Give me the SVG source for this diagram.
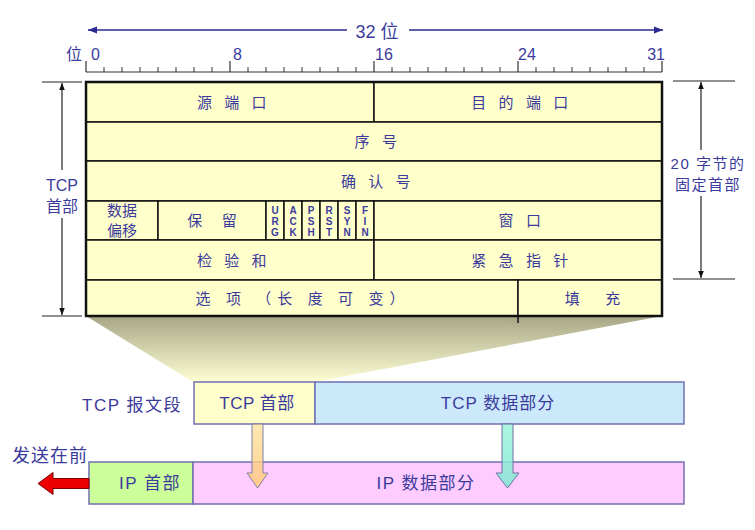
<svg xmlns="http://www.w3.org/2000/svg" width="755" height="530" viewBox="0 0 755 530">
<style>
.t{font-family:"Liberation Sans","Noto Sans CJK SC",sans-serif;fill:#3b3b9c}
.f{font-family:"Noto Sans CJK SC","Liberation Sans",sans-serif;fill:#3b3b9c;font-size:15px;text-anchor:middle;letter-spacing:4.5px}
.fl{font-family:"Liberation Sans",sans-serif;fill:#3b3b9c;font-size:10px;font-weight:bold;text-anchor:middle}
.cell{fill:#ffffcc;stroke:#111;stroke-width:1.5}
.ln{stroke:#111;stroke-width:1.5;fill:none}
.dim{stroke:#222;stroke-width:1.2;fill:none}
.box{stroke:#7070b0;stroke-width:1.5}
.bt{font-family:"Liberation Sans","Noto Sans CJK SC",sans-serif;fill:#3b3b9c;font-size:17px;text-anchor:middle;letter-spacing:1px}
.rn{font-family:"Liberation Sans",sans-serif;fill:#3b3b9c;font-size:16px}
</style>
<defs>
<marker id="ah" viewBox="0 0 10 10" refX="10" refY="5" markerWidth="7" markerHeight="7" orient="auto-start-reverse" markerUnits="userSpaceOnUse">
<path d="M0,1 L10,5 L0,9 Z" fill="#111"/>
</marker>
<marker id="ahb" viewBox="0 0 10 10" refX="10" refY="5" markerWidth="12" markerHeight="9" orient="auto-start-reverse" markerUnits="userSpaceOnUse">
<path d="M0,1 L10,5 L0,9 Z" fill="#2a2a90"/>
</marker>
<linearGradient id="trap" x1="0" y1="0" x2="0" y2="1">
<stop offset="0" stop-color="#a6a686"/>
<stop offset="1" stop-color="#fefed4"/>
</linearGradient>
<linearGradient id="og" x1="0" y1="0" x2="0" y2="1">
<stop offset="0" stop-color="#ffe3a0"/>
<stop offset="1" stop-color="#ffc870"/>
</linearGradient>
<linearGradient id="tg" x1="0" y1="0" x2="0" y2="1">
<stop offset="0" stop-color="#9ff5dc"/>
<stop offset="1" stop-color="#7ee8d0"/>
</linearGradient>
</defs>

<!-- trapezoid shading -->
<polygon points="86,316 662,316 315,382 193,382" fill="url(#trap)"/>

<!-- ruler -->
<g id="ruler">
<text class="t" x="377" y="38" font-size="18" text-anchor="middle">32 位</text>
<text class="t" x="66" y="60" font-size="16">位</text>
<text class="rn" x="91" y="60">0</text>
<text class="rn" x="233" y="60">8</text>
<text class="rn" x="375" y="60">16</text>
<text class="rn" x="518" y="60">24</text>
<text class="rn" x="665" y="60" text-anchor="end">31</text>
<path d="M86,72 H662" stroke="#333" stroke-width="1.2"/>
<path d="M86,61V72 M230,61V72 M374,61V72 M518,61V72 M662,61V72" stroke="#333" stroke-width="1.2"/>
<path d="M104,67V72 M122,67V72 M140,67V72 M158,67V72 M176,67V72 M194,67V72 M212,67V72 M248,67V72 M266,67V72 M284,67V72 M302,67V72 M320,67V72 M338,67V72 M356,67V72 M392,67V72 M410,67V72 M428,67V72 M446,67V72 M464,67V72 M482,67V72 M500,67V72 M536,67V72 M554,67V72 M572,67V72 M590,67V72 M608,67V72 M626,67V72 M644,67V72" stroke="#333" stroke-width="1"/>
</g>

<!-- header table -->
<g id="row1">
<rect class="cell" x="86" y="82" width="288" height="40"/>
<rect class="cell" x="374" y="82" width="288" height="40"/>
<text class="f" x="234" y="108">源 端 口</text>
<text class="f" x="522" y="108">目 的 端 口</text>
</g>
<g id="row2">
<rect class="cell" x="86" y="122" width="576" height="39"/>
<text class="f" x="378" y="147">序 号</text>
</g>
<g id="row3">
<rect class="cell" x="86" y="161" width="576" height="40"/>
<text class="f" x="378" y="187">确 认 号</text>
</g>
<g id="row4">
<rect class="cell" x="86" y="201" width="72" height="39"/>
<text class="f" x="122" y="216" style="letter-spacing:0">数据</text>
<text class="f" x="122" y="236" style="letter-spacing:0">偏移</text>
<rect class="cell" x="158" y="201" width="108" height="39"/>
<text class="f" x="216" y="226" style="letter-spacing:8px">保 留</text>
<rect class="cell" x="266" y="201" width="18" height="39"/>
<rect class="cell" x="284" y="201" width="18" height="39"/>
<rect class="cell" x="302" y="201" width="18" height="39"/>
<rect class="cell" x="320" y="201" width="18" height="39"/>
<rect class="cell" x="338" y="201" width="18" height="39"/>
<rect class="cell" x="356" y="201" width="18" height="39"/>
<g class="fl">
<text x="275" y="214">U</text><text x="275" y="225">R</text><text x="275" y="236">G</text>
<text x="293" y="214">A</text><text x="293" y="225">C</text><text x="293" y="236">K</text>
<text x="311" y="214">P</text><text x="311" y="225">S</text><text x="311" y="236">H</text>
<text x="329" y="214">R</text><text x="329" y="225">S</text><text x="329" y="236">T</text>
<text x="347" y="214">S</text><text x="347" y="225">Y</text><text x="347" y="236">N</text>
<text x="365" y="214">F</text><text x="365" y="225">I</text><text x="365" y="236">N</text>
</g>
<rect class="cell" x="374" y="201" width="288" height="39"/>
<text class="f" x="522" y="226">窗 口</text>
</g>
<g id="row5">
<rect class="cell" x="86" y="240" width="288" height="40"/>
<rect class="cell" x="374" y="240" width="288" height="40"/>
<text class="f" x="234" y="266">检 验 和</text>
<text class="f" x="522" y="266">紧 急 指 针</text>
</g>
<g id="row6">
<rect class="cell" x="86" y="280" width="432" height="36"/>
<rect class="cell" x="518" y="280" width="144" height="36"/>
<text class="f" x="303" y="304" style="letter-spacing:6px">选 项 （长 度 可 变）</text>
<text class="f" x="598" y="304" style="letter-spacing:11px">填 充</text>
<path d="M518,316 V323" class="ln"/>
</g>
<rect x="86" y="82" width="576" height="234" fill="none" stroke="#111" stroke-width="2.5"/>

<!-- side labels -->
<g id="tcp-header-label">
<text class="t" x="62" y="191" font-size="16" text-anchor="middle">TCP</text>
<text class="t" x="62" y="212" font-size="16" text-anchor="middle">首部</text>
</g>
<g id="fixed-label">
<text class="t" x="708" y="169" font-size="15" text-anchor="middle" letter-spacing="1.5">20 字节的</text>
<text class="t" x="708" y="190" font-size="15" text-anchor="middle" letter-spacing="1.5">固定首部</text>
</g>

<!-- bottom boxes -->
<g id="tcp-seg-label">
<text class="t" x="82" y="411" font-size="17" letter-spacing="1.5">TCP 报文段</text>
</g>
<g id="tcp-head">
<rect class="box" x="194" y="382" width="121" height="42" fill="#ffffcc"/>
<text class="bt" x="257" y="409" style="letter-spacing:0.5px">TCP 首部</text>
</g>
<g id="tcp-data">
<rect class="box" x="315" y="382" width="369" height="42" fill="#cce9fb"/>
<text class="bt" x="498" y="409">TCP 数据部分</text>
</g>
<g id="ip-head">
<rect class="box" x="89" y="462" width="104" height="42" fill="#ccff99"/>
<text class="bt" x="150" y="489" style="letter-spacing:1.5px">IP 首部</text>
</g>
<g id="ip-data">
<rect class="box" x="193" y="462" width="491" height="42" fill="#ffccff"/>
<text class="bt" x="426" y="489" style="letter-spacing:1.5px">IP 数据部分</text>
</g>
<g id="send-first">
<text class="t" x="12" y="462" font-size="18" letter-spacing="1">发送在前</text>
</g>

<!-- connectors -->
<g id="connectors">
<path d="M88,30 H347" stroke="#2a2a90" stroke-width="1.5" marker-start="url(#ahb)"/>
<path d="M409,30 H663" stroke="#2a2a90" stroke-width="1.5" marker-end="url(#ahb)"/>
<path class="dim" d="M42,82 H82 M42,316 H82"/>
<path class="dim" d="M62,170 V83" marker-end="url(#ah)"/>
<path class="dim" d="M62,218 V315" marker-end="url(#ah)"/>
<path class="dim" d="M673,81 H735 M673,279 H735"/>
<path class="dim" d="M701,150 V82" marker-end="url(#ah)"/>
<path class="dim" d="M701,196 V278" marker-end="url(#ah)"/>
<path d="M252,424 H263 V473 H268 L257.5,488 L247,473 H252 Z" fill="url(#og)" fill-opacity="0.8" stroke="#8080a8" stroke-width="1"/>
<path d="M502,424 H513 V473 H519 L507.5,488 L496,473 H502 Z" fill="url(#tg)" fill-opacity="0.85" stroke="#7070a8" stroke-width="1"/>
<path d="M89,478.5 H53 V472.5 L38,483.5 L53,494.5 V488.5 H89 Z" fill="#ee0000" stroke="#700" stroke-width="1"/>
</g>
</svg>
